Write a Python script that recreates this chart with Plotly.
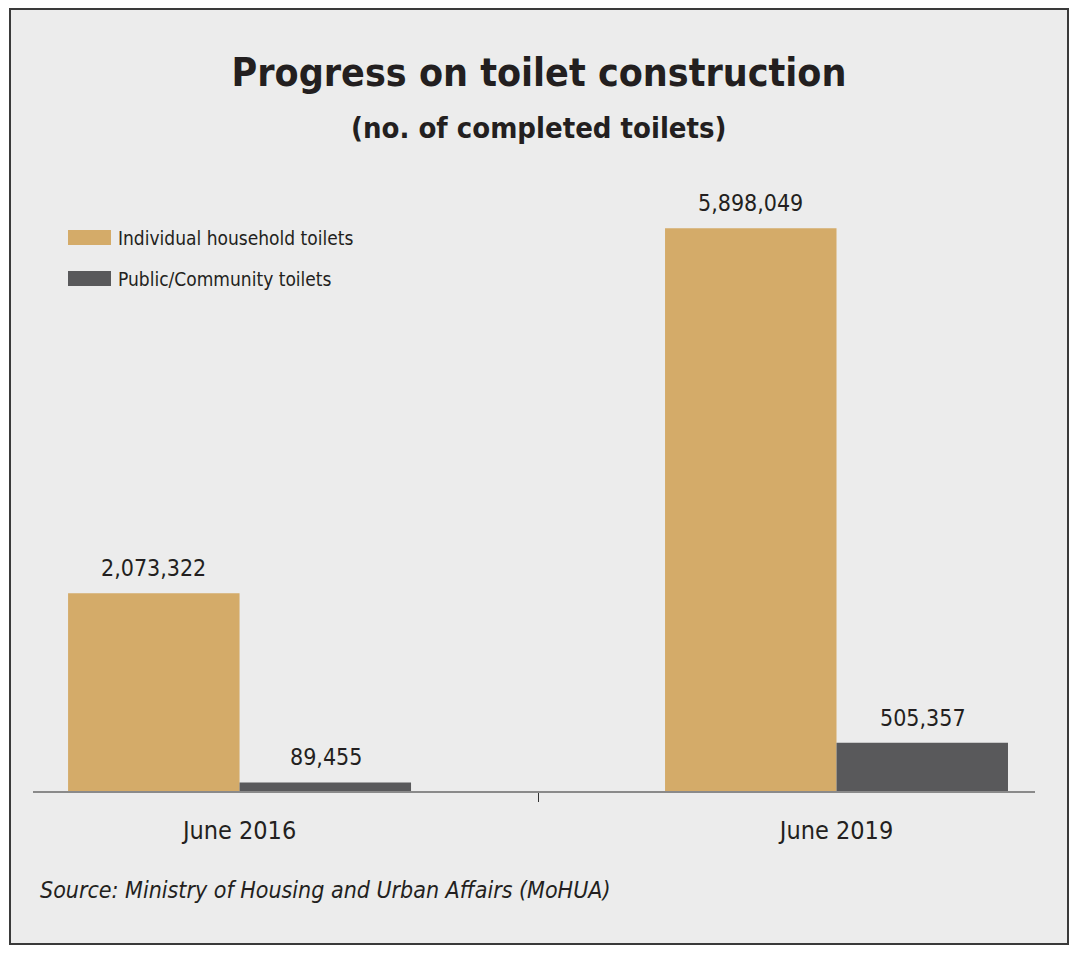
import plotly.graph_objects as go

categories = ['June 2016', 'June 2019']
household = [2073322, 5898049]
public = [89455, 505357]
series_names = ['Individual household toilets', 'Public/Community toilets']
series_colors = ['#d4ab69', '#59595b']

# the page body adds an 8px margin, so the figure is drawn 8px smaller
# and every reference pixel position is moved back by OFF
OFF = 8
W, H = 1062, 937
# plot area in reference pixels
PL, PR, PT, PB = 33, 1035, 190, 791

def px_x(p):
    return (p - PL) / (PR - PL)

def px_y(p):
    return (PB - p) / (PB - PT)

narrow = 'DejaVu Sans Condensed, Liberation Sans Narrow, sans-serif'
txt = '#231f20'

fig = go.Figure()
for name, vals, col in zip(series_names, [household, public], series_colors):
    fig.add_trace(go.Bar(x=categories, y=vals, name=name, marker_color=col,
                         marker_line_width=0, showlegend=False))

annotations = []
# value labels over bars
for vals, shift in [(household, -86), (public, 86)]:
    for cat, v in zip(categories, vals):
        annotations.append(dict(x=cat, y=v, xref='x', yref='y', text=f'{v:,}',
                                showarrow=False, xshift=shift, yshift=10,
                                yanchor='bottom',
                                font=dict(family=narrow, size=23, color=txt)))

# hand-made legend
shapes = []
for i, (name, col) in enumerate(zip(series_names, series_colors)):
    top = 230 + i * 41
    shapes.append(dict(type='rect', xref='paper', yref='paper',
                       x0=px_x(68), x1=px_x(111), y0=px_y(top + 15), y1=px_y(top),
                       fillcolor=col, line_width=0))
    annotations.append(dict(x=px_x(116), y=px_y(top + 8), xref='paper', yref='paper',
                            text=name, showarrow=False, xanchor='left', yanchor='middle',
                            font=dict(family=narrow, size=19, color=txt)))

# subtitle and source
annotations.append(dict(x=px_x(539), y=px_y(128), xref='paper', yref='paper',
                        text='<b>(no. of completed toilets)</b>', showarrow=False,
                        yanchor='middle',
                        font=dict(family=narrow, size=29, color=txt)))
annotations.append(dict(x=px_x(38), y=px_y(890), xref='paper', yref='paper',
                        text='<i>Source: Ministry of Housing and Urban Affairs (MoHUA)</i>',
                        showarrow=False, xanchor='left', yanchor='middle',
                        font=dict(family=narrow, size=23, color=txt)))

# panel frame
shapes.insert(0, dict(type='rect', xref='paper', yref='paper', layer='below',
                      x0=px_x(10), x1=px_x(1068), y0=px_y(944), y1=px_y(9),
                      fillcolor='#ececec', line=dict(color='#3a3a3a', width=2)))

fig.update_layout(
    width=W, height=H,
    margin=dict(l=PL - OFF, r=W - (PR - OFF), t=PT - OFF, b=H - (PB - OFF)),
    paper_bgcolor='white', plot_bgcolor='rgba(0,0,0,0)',
    barmode='group', bargap=0.4255, bargroupgap=0,
    title=dict(text='<b>Progress on toilet construction</b>', x=(539 - OFF) / W,
               xref='container', y=1 - (72 - OFF) / H, yref='container',
               yanchor='middle', xanchor='center',
               font=dict(family=narrow, size=39, color=txt)),
    xaxis=dict(range=[-0.346, 1.3325], showline=True, linecolor='#8a8a8a', linewidth=2,
               ticks='outside', tickson='boundaries', ticklen=9, tickcolor='#333',
               tickwidth=1, showgrid=False, zeroline=False, ticklabelstandoff=16,
               tickfont=dict(family=narrow, size=25, color=txt), fixedrange=True),
    yaxis=dict(range=[0, 6.3e6], visible=False, fixedrange=True),
    shapes=shapes, annotations=annotations,
)

fig.write_html('out.html')
